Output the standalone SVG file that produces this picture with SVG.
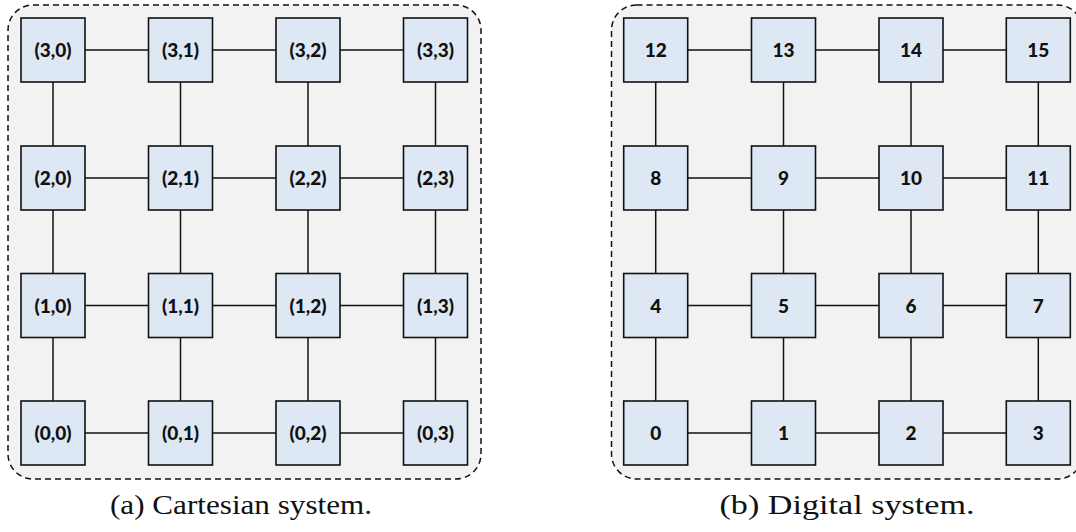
<svg xmlns="http://www.w3.org/2000/svg" width="1076" height="532" viewBox="0 0 1076 532">
<style>
.panel{fill:#f2f2f2;stroke:#111;stroke-width:1.5;stroke-dasharray:6,4}
.n rect{fill:#dde8f4;stroke:#111;stroke-width:1.6}
.n text{font-family:Lato,"Open Sans",sans-serif;font-weight:900;font-size:19px;fill:#111;text-anchor:middle}
.c line{stroke:#111;stroke-width:1.5}
.cap{font-family:"Liberation Serif","Times New Roman",serif;font-size:27px;fill:#111;text-anchor:middle}
</style>
<rect class="panel" x="8" y="5" width="473" height="474" rx="25"/>
<rect class="panel" x="611.5" y="5" width="471" height="474" rx="25"/>
<g class="c">
<line x1="85" y1="50" x2="148.5" y2="50"/><line x1="212.5" y1="50" x2="276" y2="50"/><line x1="340" y1="50" x2="403.5" y2="50"/>
<line x1="85" y1="178" x2="148.5" y2="178"/><line x1="212.5" y1="178" x2="276" y2="178"/><line x1="340" y1="178" x2="403.5" y2="178"/>
<line x1="85" y1="305.5" x2="148.5" y2="305.5"/><line x1="212.5" y1="305.5" x2="276" y2="305.5"/><line x1="340" y1="305.5" x2="403.5" y2="305.5"/>
<line x1="85" y1="433" x2="148.5" y2="433"/><line x1="212.5" y1="433" x2="276" y2="433"/><line x1="340" y1="433" x2="403.5" y2="433"/>
<line x1="53" y1="82" x2="53" y2="146"/><line x1="53" y1="210" x2="53" y2="273.5"/><line x1="53" y1="337.5" x2="53" y2="401"/>
<line x1="180.5" y1="82" x2="180.5" y2="146"/><line x1="180.5" y1="210" x2="180.5" y2="273.5"/><line x1="180.5" y1="337.5" x2="180.5" y2="401"/>
<line x1="308" y1="82" x2="308" y2="146"/><line x1="308" y1="210" x2="308" y2="273.5"/><line x1="308" y1="337.5" x2="308" y2="401"/>
<line x1="435.5" y1="82" x2="435.5" y2="146"/><line x1="435.5" y1="210" x2="435.5" y2="273.5"/><line x1="435.5" y1="337.5" x2="435.5" y2="401"/>
<line x1="687.7" y1="50" x2="751.5" y2="50"/><line x1="815.5" y1="50" x2="879" y2="50"/><line x1="943" y1="50" x2="1006.3" y2="50"/>
<line x1="687.7" y1="178" x2="751.5" y2="178"/><line x1="815.5" y1="178" x2="879" y2="178"/><line x1="943" y1="178" x2="1006.3" y2="178"/>
<line x1="687.7" y1="305.5" x2="751.5" y2="305.5"/><line x1="815.5" y1="305.5" x2="879" y2="305.5"/><line x1="943" y1="305.5" x2="1006.3" y2="305.5"/>
<line x1="687.7" y1="433" x2="751.5" y2="433"/><line x1="815.5" y1="433" x2="879" y2="433"/><line x1="943" y1="433" x2="1006.3" y2="433"/>
<line x1="655.7" y1="82" x2="655.7" y2="146"/><line x1="655.7" y1="210" x2="655.7" y2="273.5"/><line x1="655.7" y1="337.5" x2="655.7" y2="401"/>
<line x1="783.5" y1="82" x2="783.5" y2="146"/><line x1="783.5" y1="210" x2="783.5" y2="273.5"/><line x1="783.5" y1="337.5" x2="783.5" y2="401"/>
<line x1="911" y1="82" x2="911" y2="146"/><line x1="911" y1="210" x2="911" y2="273.5"/><line x1="911" y1="337.5" x2="911" y2="401"/>
<line x1="1038.3" y1="82" x2="1038.3" y2="146"/><line x1="1038.3" y1="210" x2="1038.3" y2="273.5"/><line x1="1038.3" y1="337.5" x2="1038.3" y2="401"/>
</g>
<g id="n30" class="n"><rect x="21" y="18" width="64" height="64"/><text x="53" y="57">(3,0)</text></g>
<g id="n31" class="n"><rect x="148.5" y="18" width="64" height="64"/><text x="180.5" y="57">(3,1)</text></g>
<g id="n32" class="n"><rect x="276" y="18" width="64" height="64"/><text x="308" y="57">(3,2)</text></g>
<g id="n33" class="n"><rect x="403.5" y="18" width="64" height="64"/><text x="435.5" y="57">(3,3)</text></g>
<g id="n20" class="n"><rect x="21" y="146" width="64" height="64"/><text x="53" y="185">(2,0)</text></g>
<g id="n21" class="n"><rect x="148.5" y="146" width="64" height="64"/><text x="180.5" y="185">(2,1)</text></g>
<g id="n22" class="n"><rect x="276" y="146" width="64" height="64"/><text x="308" y="185">(2,2)</text></g>
<g id="n23" class="n"><rect x="403.5" y="146" width="64" height="64"/><text x="435.5" y="185">(2,3)</text></g>
<g id="n10" class="n"><rect x="21" y="273.5" width="64" height="64"/><text x="53" y="312.5">(1,0)</text></g>
<g id="n11" class="n"><rect x="148.5" y="273.5" width="64" height="64"/><text x="180.5" y="312.5">(1,1)</text></g>
<g id="n12" class="n"><rect x="276" y="273.5" width="64" height="64"/><text x="308" y="312.5">(1,2)</text></g>
<g id="n13" class="n"><rect x="403.5" y="273.5" width="64" height="64"/><text x="435.5" y="312.5">(1,3)</text></g>
<g id="n00" class="n"><rect x="21" y="401" width="64" height="64"/><text x="53" y="440">(0,0)</text></g>
<g id="n01" class="n"><rect x="148.5" y="401" width="64" height="64"/><text x="180.5" y="440">(0,1)</text></g>
<g id="n02" class="n"><rect x="276" y="401" width="64" height="64"/><text x="308" y="440">(0,2)</text></g>
<g id="n03" class="n"><rect x="403.5" y="401" width="64" height="64"/><text x="435.5" y="440">(0,3)</text></g>
<g id="d12" class="n"><rect x="623.7" y="18" width="64" height="64"/><text x="655.7" y="57">12</text></g>
<g id="d13" class="n"><rect x="751.5" y="18" width="64" height="64"/><text x="783.5" y="57">13</text></g>
<g id="d14" class="n"><rect x="879" y="18" width="64" height="64"/><text x="911" y="57">14</text></g>
<g id="d15" class="n"><rect x="1006.3" y="18" width="64" height="64"/><text x="1038.3" y="57">15</text></g>
<g id="d8" class="n"><rect x="623.7" y="146" width="64" height="64"/><text x="655.7" y="185">8</text></g>
<g id="d9" class="n"><rect x="751.5" y="146" width="64" height="64"/><text x="783.5" y="185">9</text></g>
<g id="d10" class="n"><rect x="879" y="146" width="64" height="64"/><text x="911" y="185">10</text></g>
<g id="d11" class="n"><rect x="1006.3" y="146" width="64" height="64"/><text x="1038.3" y="185">11</text></g>
<g id="d4" class="n"><rect x="623.7" y="273.5" width="64" height="64"/><text x="655.7" y="312.5">4</text></g>
<g id="d5" class="n"><rect x="751.5" y="273.5" width="64" height="64"/><text x="783.5" y="312.5">5</text></g>
<g id="d6" class="n"><rect x="879" y="273.5" width="64" height="64"/><text x="911" y="312.5">6</text></g>
<g id="d7" class="n"><rect x="1006.3" y="273.5" width="64" height="64"/><text x="1038.3" y="312.5">7</text></g>
<g id="d0" class="n"><rect x="623.7" y="401" width="64" height="64"/><text x="655.7" y="440">0</text></g>
<g id="d1" class="n"><rect x="751.5" y="401" width="64" height="64"/><text x="783.5" y="440">1</text></g>
<g id="d2" class="n"><rect x="879" y="401" width="64" height="64"/><text x="911" y="440">2</text></g>
<g id="d3" class="n"><rect x="1006.3" y="401" width="64" height="64"/><text x="1038.3" y="440">3</text></g>
<text class="cap" x="241" y="514" textLength="262" lengthAdjust="spacingAndGlyphs">(a) Cartesian system.</text>
<text class="cap" x="847" y="514" textLength="255" lengthAdjust="spacingAndGlyphs">(b) Digital system.</text>
</svg>
